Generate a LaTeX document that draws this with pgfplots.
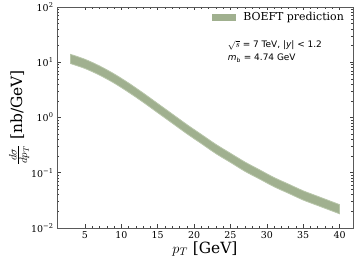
\documentclass[border=0pt]{standalone}
\usepackage{pgfplots}
\pgfplotsset{compat=1.18}
\usepgfplotslibrary{fillbetween}
\usepackage{fontspec}
\setmainfont{DejaVu Serif}
\newfontfamily\dvs{DejaVu Sans}
\definecolor{bandfill}{RGB}{160,176,143}
\definecolor{bandedge}{RGB}{184,198,170}
\begin{document}
\begin{tikzpicture}
\begin{axis}[
  name=ax,
  width=296bp, height=221bp, scale only axis,
  xmin=1.15, xmax=41.85,
  ymode=log, ymin=0.01, ymax=100,
  xtick={5,10,...,40}, minor x tick num=4,
  ytick={0.01,0.1,1,10,100},
  yticklabels={10\textsuperscript{−2},10\textsuperscript{−1},10\textsuperscript{0},10\textsuperscript{1},10\textsuperscript{2}},
  minor ytick={0.02,0.03,0.04,0.05,0.06,0.07,0.08,0.09,0.2,0.3,0.4,0.5,0.6,0.7,0.8,0.9,2,3,4,5,6,7,8,9,20,30,40,50,60,70,80,90},
  tick align=inside,
  xtick pos=both, ytick pos=both,
  xticklabel pos=bottom, yticklabel pos=left,
  major tick length=3.5bp, minor tick length=2bp,
  every tick/.style={black!75, line width=0.6pt},
  axis line style={black!65, line width=0.8pt},
  /pgf/number format/assume math mode=true,
  ticklabel style={font=\fontsize{9.5}{11}\selectfont},
  xlabel={$p_T$ [GeV]},
  ylabel={$\frac{d\sigma}{dp_T}$ [nb/GeV]},
  label style={font=\fontsize{15.5}{18}\selectfont},
  xlabel style={at={(axis description cs:0.5,-0.095)}, anchor=center},
  ylabel style={at={(axis description cs:-0.128,0.5)}, anchor=center},
  legend style={at={(axis description cs:0.98,0.99)}, anchor=north east, draw=none, fill=none,
    font=\fontsize{11}{12}\selectfont, inner sep=1pt},
  legend cell align=left,
]
\addplot[name path=up, draw=none, smooth, forget plot] coordinates {
(3,13.90) (5,11.30) (7,8.57) (9,6.15) (11,4.20) (13,2.77) (15,1.79) (17,1.156)
(19,0.746) (21,0.493) (23,0.326) (25,0.225) (27,0.156) (29,0.113) (31,0.0818)
(33,0.0621) (35,0.0471) (37,0.0374) (40,0.0265)};
\addplot[name path=lo, draw=none, smooth, forget plot] coordinates {
(3,9.48) (5,7.71) (7,5.85) (9,4.20) (11,2.86) (13,1.89) (15,1.22) (17,0.789)
(19,0.509) (21,0.337) (23,0.222) (25,0.154) (27,0.106) (29,0.0771) (31,0.0558)
(33,0.0424) (35,0.0321) (37,0.0255) (40,0.0181)};
\addplot[fill=bandfill, draw=bandedge, line width=0.8pt,
  legend image code/.code={\fill[bandfill] (0bp,-3bp) rectangle (23bp,3bp); \path (29bp,0bp);}]
  fill between[of=up and lo];
\addlegendentry{BOEFT prediction}
\node[anchor=west, font=\dvs\fontsize{9}{11}\selectfont, inner sep=0pt] at (axis description cs:0.577,0.828) {$\sqrt{s}$ = 7 TeV, |\textit{y}| < 1.2};
\node[anchor=west, font=\dvs\fontsize{9}{11}\selectfont, inner sep=0pt] at (axis description cs:0.577,0.768) {\textit{m}\textsubscript{b} = 4.74 GeV};
\end{axis}
\pgfresetboundingbox
\path[use as bounding box] ([shift={(-57bp,-33bp)}]ax.south west) rectangle ([shift={(3bp,7bp)}]ax.north east);
\end{tikzpicture}
\end{document}
